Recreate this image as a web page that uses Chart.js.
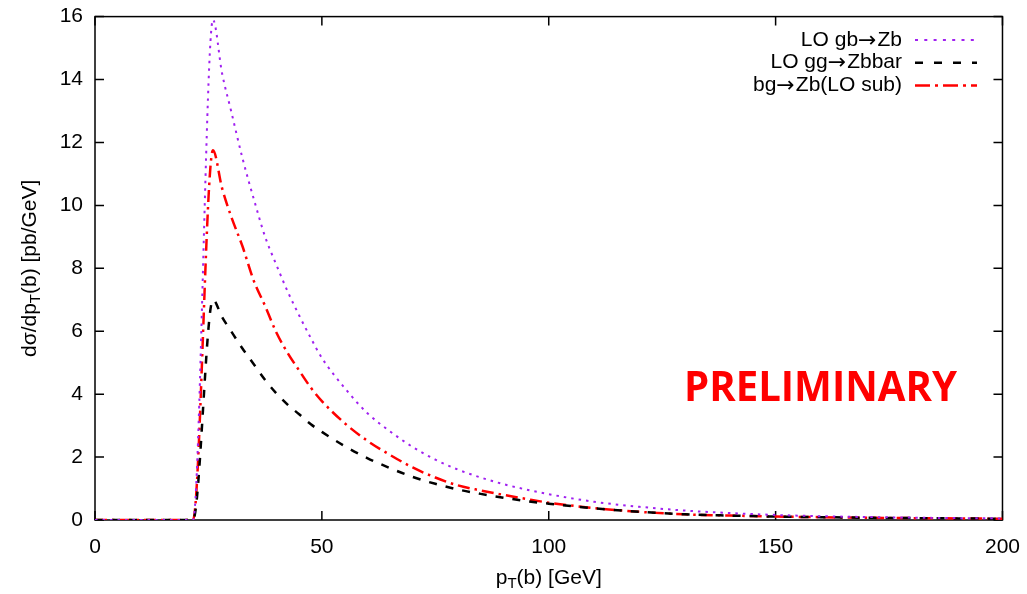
<!DOCTYPE html>
<html>
<head>
<meta charset="utf-8">
<script src="https://cdn.jsdelivr.net/npm/chart.js@4"></script>
<style>
  html, body { margin: 0; padding: 0; background: #fff; }
</style>
</head>
<body>
<canvas id="chart" width="1027" height="594"></canvas>
<script>
// --- data ---
const ptValues = [0, 21.6, 26, 28, 30, 32.5, 35, 37.5, 40, 42.5, 45, 47.5, 50, 55, 60, 65, 70, 75, 80, 85, 90, 95, 100, 110, 120, 130, 140, 150, 160, 170, 180, 190, 200];
const gbZb     = [0, 0, 15.9, 14.2, 13.0, 11.5, 10.2, 9.0, 8.1, 7.25, 6.5, 5.8, 5.15, 4.2, 3.4, 2.82, 2.32, 1.92, 1.6, 1.35, 1.14, 0.97, 0.82, 0.58, 0.42, 0.3, 0.22, 0.16, 0.12, 0.095, 0.075, 0.06, 0.05];
const ggZbbar  = [0, 0, 7.0, 6.45, 6.0, 5.45, 4.95, 4.45, 4.02, 3.66, 3.36, 3.05, 2.8, 2.35, 1.97, 1.65, 1.37, 1.15, 0.97, 0.83, 0.71, 0.6, 0.52, 0.37, 0.26, 0.18, 0.14, 0.11, 0.09, 0.07, 0.06, 0.05, 0.04];
const bgLOsub  = [0, 0, 11.75, 10.55, 9.65, 8.7, 7.6, 6.8, 5.95, 5.3, 4.75, 4.22, 3.78, 3.08, 2.52, 2.07, 1.67, 1.35, 1.1, 0.94, 0.8, 0.67, 0.55, 0.38, 0.26, 0.18, 0.14, 0.11, 0.09, 0.07, 0.06, 0.05, 0.04];

// legend labels split around the arrow
const seriesLabels = [["LO gb", "Zb"], ["LO gg", "Zbbar"], ["bg", "Zb(LO sub)"]];
const xTicks = [0, 50, 100, 150, 200];
const yTicks = [0, 2, 4, 6, 8, 10, 12, 14, 16];

const FONT = '"Liberation Sans", Arial, sans-serif';
const PURPLE = "#a020f0", BLACK = "#000000", RED = "#ff0000";

const pts = ys => ptValues.map((x, i) => ({x, y: ys[i]}));

// --- frame, ticks, titles, legend ---
const decor = {
  id: "decor",
  beforeDatasetsDraw(chart) {
    const {ctx, chartArea: a, scales: {x, y}} = chart;
    ctx.save();
    ctx.strokeStyle = "#000";
    ctx.lineWidth = 1.5;
    ctx.strokeRect(a.left, a.top, a.right - a.left, a.bottom - a.top);
    const tl = 9;
    ctx.beginPath();
    xTicks.forEach(v => {
      const px = x.getPixelForValue(v);
      ctx.moveTo(px, a.bottom); ctx.lineTo(px, a.bottom - tl);
      ctx.moveTo(px, a.top); ctx.lineTo(px, a.top + tl);
    });
    yTicks.forEach(v => {
      const py = y.getPixelForValue(v);
      ctx.moveTo(a.left, py); ctx.lineTo(a.left + tl, py);
      ctx.moveTo(a.right, py); ctx.lineTo(a.right - tl, py);
    });
    ctx.stroke();
    ctx.restore();
  },
  afterDraw(chart) {
    const {ctx, chartArea: a} = chart;
    ctx.save();
    ctx.fillStyle = "#000";
    ctx.textBaseline = "middle";

    // text with a subscript T
    function subText(parts, cx, cy) {
      const big = "21px " + FONT, small = "15px " + FONT;
      let w = 0;
      parts.forEach(p => { ctx.font = p.sub ? small : big; w += ctx.measureText(p.t).width; });
      let xx = cx - w / 2;
      parts.forEach(p => {
        ctx.font = p.sub ? small : big;
        ctx.textAlign = "left";
        ctx.fillText(p.t, xx, cy + (p.sub ? 6 : 0));
        xx += ctx.measureText(p.t).width;
      });
    }
    subText([{t: "p"}, {t: "T", sub: true}, {t: "(b) [GeV]"}], (a.left + a.right) / 2, 578);
    ctx.save();
    ctx.translate(30, (a.top + a.bottom) / 2);
    ctx.rotate(-Math.PI / 2);
    subText([{t: "d\u03c3/dp"}, {t: "T", sub: true}, {t: "(b) [pb/GeV]"}], 0, 0);
    ctx.restore();

    // legend
    const rows = [
      {c: PURPLE, d: [3, 6.3], w: 2},
      {c: BLACK, d: [8, 11], w: 2.5},
      {c: RED, d: [15, 5, 3, 5], w: 2.5}
    ];
    const txtFont = "21px " + FONT, arrFont = '22px "DejaVu Sans", sans-serif';
    ctx.textAlign = "left";
    rows.forEach((r, i) => {
      const yy = 40 + i * 22.7;
      const [pre, post] = seriesLabels[i];
      ctx.font = txtFont;
      const w1 = ctx.measureText(pre).width, w3 = ctx.measureText(post).width;
      ctx.font = arrFont;
      const w2 = ctx.measureText("\u2192").width + 1;
      let xx = 902 - (w1 + w2 + w3);
      ctx.fillStyle = "#000";
      ctx.font = txtFont; ctx.fillText(pre, xx, yy); xx += w1;
      ctx.font = arrFont; ctx.fillText("\u2192", xx, yy + 1); xx += w2;
      ctx.font = txtFont; ctx.fillText(post, xx, yy);
      ctx.beginPath();
      ctx.strokeStyle = r.c;
      ctx.lineWidth = r.w;
      ctx.setLineDash(r.d);
      ctx.moveTo(915, yy); ctx.lineTo(977, yy);
      ctx.stroke();
    });
    ctx.setLineDash([]);

    // PRELIMINARY stamp
    ctx.font = 'bold 42px "Open Sans", sans-serif';
    ctx.fillStyle = RED;
    ctx.textAlign = "left";
    const txt = "PRELIMINARY";
    const tw = ctx.measureText(txt).width;
    ctx.save();
    ctx.translate(684, 389);
    ctx.scale(273 / tw, 1);
    ctx.fillText(txt, 0, 0);
    ctx.restore();
    ctx.restore();
  }
};

new Chart(document.getElementById("chart"), {
  type: "line",
  data: {
    datasets: [
      { label: "LO gb\u2192Zb", data: pts(gbZb), borderColor: PURPLE, borderWidth: 2, borderDash: [2.5, 5] },
      { label: "LO gg\u2192Zbbar", data: pts(ggZbbar), borderColor: BLACK, borderWidth: 2.5, borderDash: [8, 9] },
      { label: "bg\u2192Zb(LO sub)", data: pts(bgLOsub), borderColor: RED, borderWidth: 2.5, borderDash: [12, 5, 2.5, 5] }
    ]
  },
  options: {
    responsive: false,
    animation: false,
    layout: { padding: { top: 9, right: 18, left: 0, bottom: 0 } },
    elements: {
      point: { radius: 0 },
      line: { cubicInterpolationMode: "monotone", fill: false, borderCapStyle: "butt" }
    },
    plugins: { legend: { display: false }, tooltip: { enabled: false } },
    scales: {
      x: {
        type: "linear", min: 0, max: 200,
        grid: { display: false }, border: { display: false },
        ticks: { stepSize: 50, padding: 7, color: "#000", font: { family: FONT, size: 21 }, maxRotation: 0 },
        afterFit(s) { s.height = 74; }
      },
      y: {
        min: 0, max: 16,
        grid: { display: false }, border: { display: false },
        ticks: { stepSize: 2, padding: 4, color: "#000", font: { family: FONT, size: 21 } },
        afterFit(s) { s.width = 95; }
      }
    }
  },
  plugins: [decor]
});
</script>
</body>
</html>
